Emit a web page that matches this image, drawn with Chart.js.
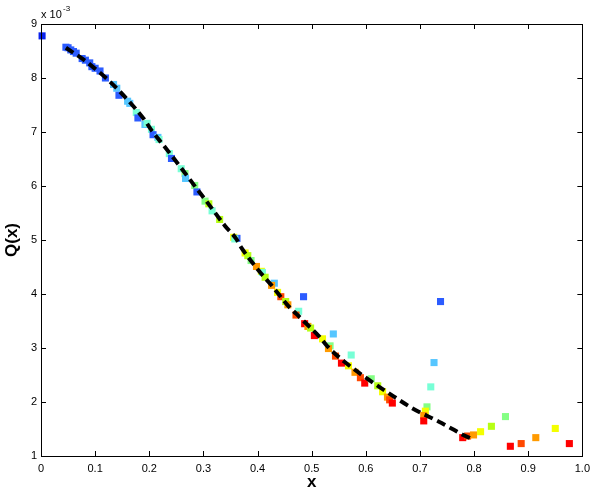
<!DOCTYPE html>
<html>
<head>
<meta charset="utf-8">
<script src="https://cdn.jsdelivr.net/npm/chart.js@4"></script>
<style>
  html, body { margin: 0; padding: 0; background: #fff; }
  #wrap { width: 596px; height: 498px; }
</style>
</head>
<body>
<div id="wrap"><canvas id="qChart"></canvas></div>
<script>
// measured samples (Q in units of 1e-3)
var sampleX = [0.002, 0.046, 0.050, 0.055, 0.060, 0.065, 0.076, 0.082, 0.090, 0.094, 0.100, 0.109, 0.119,
    0.134, 0.140, 0.144, 0.160, 0.164, 0.176, 0.179, 0.192, 0.196, 0.204, 0.207, 0.216, 0.218, 0.237, 0.241,
    0.259, 0.266, 0.267, 0.284, 0.288, 0.303, 0.310, 0.316, 0.330, 0.356, 0.362, 0.358, 0.377, 0.382, 0.388,
    0.398, 0.407, 0.409, 0.414, 0.431, 0.426, 0.437, 0.443, 0.452, 0.456, 0.485, 0.476, 0.471, 0.487, 0.493,
    0.498, 0.505, 0.520, 0.540, 0.534, 0.531, 0.544, 0.555, 0.573, 0.568, 0.580, 0.590, 0.598, 0.610, 0.622,
    0.631, 0.640, 0.644, 0.649, 0.713, 0.710, 0.707, 0.707, 0.720, 0.726, 0.738, 0.779, 0.788, 0.799, 0.812,
    0.832, 0.858, 0.867, 0.887, 0.914, 0.950, 0.976];
var sampleQ = [8.78, 8.57, 8.56, 8.52, 8.49, 8.46, 8.36, 8.33, 8.28, 8.21, 8.18, 8.13, 8.00,
    7.88, 7.81, 7.68, 7.57, 7.53, 7.36, 7.26, 7.14, 7.16, 7.05, 6.95, 6.90, 6.86, 6.60, 6.51,
    6.32, 6.23, 6.14, 6.01, 5.89, 5.72, 5.67, 5.54, 5.38, 5.05, 5.03, 5.02, 4.76, 4.71, 4.62,
    4.51, 4.42, 4.40, 4.31, 4.20, 4.16, 4.03, 3.95, 3.86, 3.80, 3.95, 3.68, 3.61, 3.45, 3.40,
    3.37, 3.23, 3.17, 3.26, 3.04, 2.99, 2.85, 2.72, 2.87, 2.67, 2.55, 2.45, 2.35, 2.43, 2.30,
    2.19, 2.09, 2.04, 1.98, 1.91, 1.83, 1.75, 1.65, 2.28, 2.73, 3.86, 1.34, 1.37, 1.39, 1.45,
    1.55, 1.73, 1.18, 1.23, 1.34, 1.51, 1.23];
// colour class of each sample (0 = deep blue ... 9 = red)
var sampleLevel = [0, 1, 1, 1, 1, 1, 1, 1, 1, 1, 1, 1, 1,
    2, 2, 1, 2, 2, 3, 1, 2, 3, 3, 1, 2, 3, 3, 1,
    3, 4, 2, 4, 1, 4, 5, 3, 5, 6, 1, 3, 6, 5, 4,
    7, 6, 3, 5, 2, 7, 6, 8, 5, 7, 1, 3, 8, 9, 7,
    5, 9, 6, 2, 4, 7, 8, 9, 3, 6, 7, 8, 9, 4, 5,
    6, 7, 8, 9, 4, 6, 7, 9, 3, 2, 1, 9, 8, 7, 6,
    5, 4, 9, 8, 7, 6, 9];

// fitted curve
var fitX = [0.046, 0.080, 0.100, 0.120, 0.155, 0.190, 0.205, 0.225, 0.260, 0.290, 0.310, 0.340, 0.360,
    0.370, 0.405, 0.425, 0.455, 0.480, 0.515, 0.530, 0.560, 0.600, 0.640, 0.685, 0.740, 0.760, 0.780, 0.800];
var fitQ = [8.56, 8.33, 8.17, 8.00, 7.65, 7.24, 7.02, 6.77, 6.32, 5.92, 5.66, 5.26, 5.03,
    4.86, 4.40, 4.17, 3.80, 3.55, 3.20, 3.02, 2.75, 2.45, 2.18, 1.89, 1.61, 1.50, 1.39, 1.30];

var palette = ['#0a22ee', '#2c5cff', '#56c6ff', '#78ffd6', '#84ff84', '#b6ff14', '#f4ff00', '#ff9a00', '#ff4800', '#ff0000'];

var samplePts = sampleX.map(function (x, i) { return { x: x, y: sampleQ[i] }; });
var fitPts = fitX.map(function (x, i) { return { x: x, y: fitQ[i] }; });
var sampleColors = sampleLevel.map(function (l) { return palette[l]; });

// matlab-ish frame: box, inward ticks, exponent note
var framePlugin = {
    id: 'frame',
    afterDraw: function (chart) {
        var ctx = chart.ctx;
        var a = chart.chartArea;
        var xs = chart.scales.x, ys = chart.scales.y;
        ctx.save();
        ctx.strokeStyle = '#000';
        ctx.lineWidth = 1;
        ctx.beginPath();
        xs.ticks.forEach(function (t) {
            var px = Math.round(xs.getPixelForValue(t.value)) + 0.5;
            ctx.moveTo(px, a.bottom); ctx.lineTo(px, a.bottom - 5);
            ctx.moveTo(px, a.top); ctx.lineTo(px, a.top + 5);
        });
        ys.ticks.forEach(function (t) {
            var py = Math.round(ys.getPixelForValue(t.value)) + 0.5;
            ctx.moveTo(a.left, py); ctx.lineTo(a.left + 5, py);
            ctx.moveTo(a.right, py); ctx.lineTo(a.right - 5, py);
        });
        ctx.stroke();
        ctx.strokeRect(Math.round(a.left) + 0.5, Math.round(a.top) + 0.5,
            Math.round(a.right - a.left), Math.round(a.bottom - a.top));
        ctx.fillStyle = '#000';
        ctx.textBaseline = 'alphabetic';
        ctx.font = '11px "Liberation Sans", Arial, sans-serif';
        ctx.fillText('x 10', 41, 18);
        ctx.font = '8px "Liberation Sans", Arial, sans-serif';
        ctx.fillText('-3', 63, 11);
        ctx.restore();
    }
};

var tickFont = { family: '"Liberation Sans", Arial, sans-serif', size: 11 };
var titleFont = { family: '"Liberation Sans", Arial, sans-serif', size: 17, weight: 'bold' };

new Chart(document.getElementById('qChart').getContext('2d'), {
    type: 'scatter',
    data: {
        datasets: [
            {
                label: 'fit',
                data: fitPts,
                showLine: true,
                borderColor: '#000',
                borderWidth: 4,
                borderDash: [9, 5],
                pointRadius: 0,
                cubicInterpolationMode: 'monotone',
                fill: false,
                order: 0
            },
            {
                label: 'Q(x)',
                data: samplePts,
                pointStyle: 'rect',
                pointRadius: 5,
                pointBorderWidth: 0,
                pointBackgroundColor: sampleColors,
                pointBorderColor: sampleColors,
                clip: false,
                order: 1
            }
        ]
    },
    options: {
        responsive: true,
        maintainAspectRatio: false,
        animation: false,
        layout: { padding: { top: 24, right: 7, left: 0, bottom: 0 } },
        plugins: {
            legend: { display: false },
            tooltip: { enabled: false }
        },
        scales: {
            x: {
                type: 'linear',
                min: 0,
                max: 1,
                afterFit: function (s) { s.height = 42; },
                ticks: { stepSize: 0.1, color: '#000', font: tickFont, padding: 6, maxRotation: 0 },
                grid: { drawOnChartArea: false, drawTicks: false },
                border: { display: true, color: '#000' },
                title: { display: true, text: 'x', color: '#000', font: titleFont, padding: { top: 0, bottom: 5 } }
            },
            y: {
                type: 'linear',
                min: 1,
                max: 9,
                afterFit: function (s) { s.width = 41; },
                ticks: { stepSize: 1, color: '#000', font: tickFont, padding: 4 },
                grid: { drawOnChartArea: false, drawTicks: false },
                border: { display: true, color: '#000' },
                title: { display: true, text: 'Q(x)', color: '#000', font: titleFont, padding: { top: 2, bottom: 0 } }
            }
        }
    },
    plugins: [framePlugin]
});
</script>
</body>
</html>
